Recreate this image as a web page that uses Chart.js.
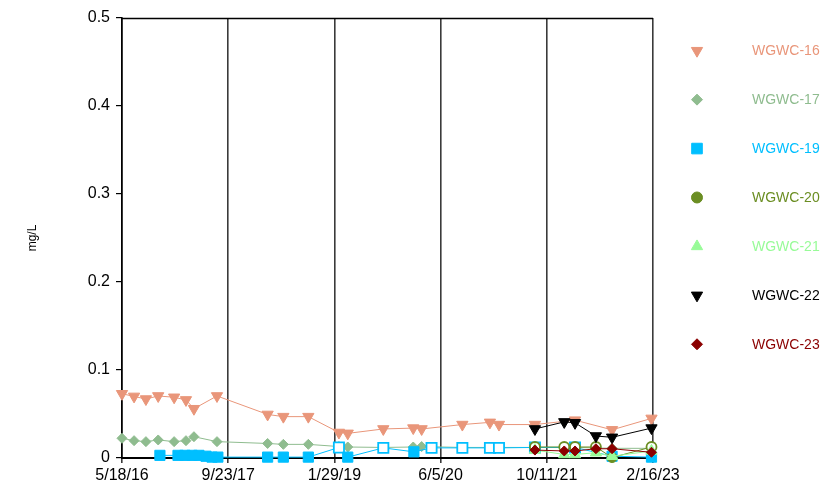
<!DOCTYPE html>
<html><head><meta charset="utf-8">
<script src="https://cdn.jsdelivr.net/npm/chart.js@4/dist/chart.umd.min.js"></script>
<style>html,body{margin:0;padding:0;background:#fff;overflow:hidden}canvas{display:block}</style>
</head><body>
<canvas id="c" width="833" height="490"></canvas>
<script>
// ---------- DATA ----------
const tickLabels = ['5/18/16','9/23/17','1/29/19','6/5/20','10/11/21','2/16/23'];
const seriesNames = ['WGWC-16','WGWC-17','WGWC-19','WGWC-20','WGWC-21','WGWC-22','WGWC-23'];

const dates16 = ['2016-05-18','2016-07-13','2016-09-06','2016-11-02','2017-01-15','2017-03-11','2017-04-17','2017-08-02','2018-03-25','2018-06-06','2018-09-30','2019-02-19','2019-04-01','2019-09-13','2020-01-30','2020-03-09','2020-09-14','2021-01-20','2021-03-03','2021-08-17','2022-02-19','2022-08-10','2023-02-09'];
const values16 = [0.073,0.070,0.067,0.0705,0.069,0.066,0.056,0.0705,0.0495,0.047,0.047,0.029,0.028,0.033,0.034,0.033,0.038,0.0405,0.038,0.038,0.043,0.032,0.045];

const dates17 = ['2016-05-18','2016-07-13','2016-09-06','2016-11-02','2017-01-15','2017-03-11','2017-04-17','2017-08-02','2018-03-25','2018-06-06','2018-09-30','2019-02-19','2019-04-01','2019-09-13','2020-01-30','2020-03-09','2020-09-14','2021-01-20','2021-03-03','2021-08-17','2022-02-19','2022-08-10','2023-02-09'];
const values17 = [0.0224,0.0197,0.0186,0.0205,0.0186,0.0197,0.0242,0.0186,0.0165,0.0155,0.0155,0.013,0.0125,0.012,0.0125,0.013,0.012,0.012,0.012,0.012,0.012,0.011,0.011];

const dates19 = ['2016-11-10','2017-02-02','2017-03-06','2017-04-08','2017-05-10','2017-06-12','2017-07-10','2017-08-06','2018-03-25','2018-06-06','2018-09-30','2019-02-19','2019-04-01','2019-09-13','2020-02-02','2020-04-24','2020-09-14','2021-01-20','2021-03-03','2021-08-17','2022-02-19','2022-08-10','2023-02-09'];
const values19 = [0.003,0.003,0.003,0.003,0.003,0.002,0.001,0.001,0.001,0.001,0.001,0.012,0.001,0.0115,0.007,0.0115,0.0115,0.0115,0.0115,0.012,0.012,0.002,0.001];
const nonDetect19 = [0,0,0,0,0,0,0,0,0,0,0,1,0,1,0,1,1,1,1,1,1,0,0];

const datesLate = ['2021-08-17','2021-12-31','2022-02-19','2022-05-27','2022-08-10','2023-02-09'];
const values20 = [0.0125,0.0125,0.0125,0.0125,0.0005,0.0125];
const nonDetect20 = [1,1,1,1,0,1];
const values21 = [0.009,0.004,0.004,0.006,0.002,0.008];
const values22 = [0.033,0.041,0.040,0.025,0.0235,0.034];
const values23 = [0.009,0.008,0.008,0.0105,0.0105,0.0065];

// ---------- HELPERS ----------
const dayOf = s => { const [y,m,d] = s.split('-').map(Number); return Date.UTC(y,m-1,d)/86400000; };
const mdyDay = s => { const [m,d,y] = s.split('/').map(Number); return Date.UTC(2000+y,m-1,d)/86400000; };

const seriesData = [
  {dates:dates16, values:values16, open:null},
  {dates:dates17, values:values17, open:null},
  {dates:dates19, values:values19, open:nonDetect19},
  {dates:datesLate, values:values20, open:nonDetect20},
  {dates:datesLate, values:values21, open:null},
  {dates:datesLate, values:values22, open:null},
  {dates:datesLate, values:values23, open:null}
];
const seriesStyle = [
  {color:'#E9967A', style:'triangle', rot:180, r:6.5, lr:6.5},
  {color:'#8FBC8F', style:'rectRot', rot:0, r:5, lr:5.5},
  {color:'#00BFFF', style:'rect', rot:0, r:7.2, lr:7.5},
  {color:'#6B8E23', style:'circle', rot:0, r:5, lr:5.5},
  {color:'#98FB98', style:'triangle', rot:0, r:6.5, lr:6.5},
  {color:'#000000', style:'triangle', rot:180, r:6.5, lr:6.5},
  {color:'#8B0000', style:'rectRot', rot:0, r:5, lr:5.5}
];

const datasets = seriesData.map((s,i) => {
  const st = seriesStyle[i];
  return {
    label: seriesNames[i],
    data: s.dates.map((d,j) => ({x: dayOf(d), y: s.values[j]})),
    borderColor: st.color,
    backgroundColor: st.color,
    borderWidth: 1,
    pointStyle: st.style,
    pointRotation: st.rot,
    pointRadius: st.r,
    pointHoverRadius: st.r,
    pointBorderColor: st.color,
    pointBackgroundColor: s.open ? s.open.map(o => o ? '#ffffff' : st.color) : st.color,
    pointBorderWidth: s.open ? s.open.map(o => o ? 1.8 : 1) : 1,
    tension: 0,
    clip: false,
    order: seriesData.length - i
  };
});

Chart.defaults.font.family = '"Liberation Sans", Arial, sans-serif';
Chart.defaults.color = '#000';

const framePlugin = {
  id: 'frame',
  beforeDatasetsDraw(chart) {
    const {ctx, chartArea:a} = chart;
    ctx.save();
    ctx.strokeStyle = '#000';
    ctx.lineWidth = 1.5;
    ctx.beginPath();
    ctx.moveTo(a.left, a.top + 0.5);
    ctx.lineTo(a.right, a.top + 0.5);
    ctx.stroke();
    ctx.restore();
  }
};

const legendPlugin = {
  id: 'sideLegend',
  afterDraw(chart) {
    const ctx = chart.ctx;
    ctx.save();
    ctx.font = '14px "Liberation Sans", Arial, sans-serif';
    ctx.textBaseline = 'middle';
    ctx.textAlign = 'left';
    seriesNames.forEach((name, i) => {
      const st = seriesStyle[i];
      const y = 50.7 + i * 48.93;
      ctx.fillStyle = st.color;
      ctx.strokeStyle = st.color;
      ctx.lineWidth = 1;
      Chart.helpers.drawPoint(ctx, {pointStyle: st.style, rotation: st.rot, radius: st.lr, borderWidth: 1}, 697, y);
      ctx.fillStyle = st.color;
      ctx.fillText(name, 752, y + 0.5);
    });
    ctx.restore();
  }
};

new Chart(document.getElementById('c'), {
  type: 'line',
  data: { datasets },
  options: {
    responsive: false,
    animation: false,
    devicePixelRatio: 1,
    layout: { padding: {top: 18, right: 180, bottom: 0, left: 0} },
    plugins: { legend: {display: false}, tooltip: {enabled: false} },
    scales: {
      x: {
        type: 'linear',
        min: mdyDay(tickLabels[0]),
        max: mdyDay(tickLabels[tickLabels.length - 1]),
        afterBuildTicks: axis => { axis.ticks = tickLabels.map(t => ({value: mdyDay(t)})); },
        afterFit: s => { s.height = 32; },
        ticks: { autoSkip: false, maxRotation: 0, padding: 3, font: {size: 16}, callback: (v, i) => tickLabels[i] },
        grid: { color: '#3a3a3a', lineWidth: 1.6, tickLength: 5, drawOnChartArea: true },
        border: { display: true, color: '#000', width: 2 }
      },
      y: {
        min: 0, max: 0.5,
        afterFit: s => { s.width = 122; },
        ticks: { stepSize: 0.1, padding: 6, font: {size: 16}, callback: v => v === 0 ? '0' : v.toFixed(1) },
        grid: { drawOnChartArea: false, drawTicks: true, tickLength: 6, color: '#000', lineWidth: 1.2 },
        border: { display: true, color: '#000', width: 1.6 },
        title: { display: true, text: 'mg/L', font: {size: 12}, padding: {top: 25, bottom: 0}, color: '#000' }
      }
    }
  },
  plugins: [framePlugin, legendPlugin]
});
</script>
</body></html>
